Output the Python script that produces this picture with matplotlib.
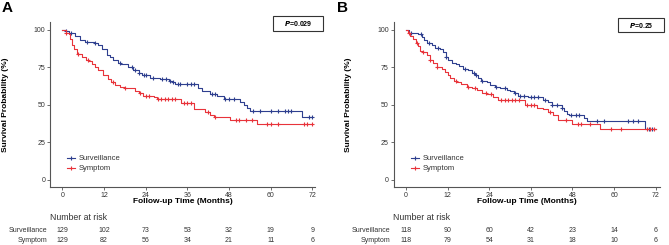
import numpy as np
import matplotlib
matplotlib.use("Agg")
import matplotlib.pyplot as plt
from matplotlib.lines import Line2D
from matplotlib.patches import Rectangle

plt.rcParams['font.family'] = ['Liberation Sans', 'DejaVu Sans']

# ---------------- data ----------------
groups = ["Surveillance", "Symptom"]
risk_times = [0, 12, 24, 36, 48, 60, 72]

# Panel A
a_surv_t = [0, 1, 2, 3.7, 5, 6.5, 9, 10.4, 11.4, 12.8, 13.8, 14.7, 16, 17, 19, 20.5, 22, 23, 25.3, 28.2, 30.6, 31.6, 32.5, 39.2, 40.2, 42.6, 44.6, 46.5, 51.3, 52.3, 53.2, 54.2, 69.1, 72]
a_surv_s = [100, 99, 98, 96, 93, 92, 91, 90, 87, 83, 82, 80, 78, 77, 75, 73, 71, 70, 68, 67, 66, 65, 63.5, 61, 59, 57, 56, 54, 52, 50, 48, 46, 41.5, 41.5]
a_symp_t = [0, 1, 1.8, 2.2, 2.7, 3.4, 4.3, 5.6, 6.8, 7.8, 8.5, 9.4, 10.4, 11.8, 13.3, 14, 15.2, 16.6, 18, 21, 22.2, 23.2, 26.3, 27.2, 34.3, 37.8, 41.2, 42.4, 43.6, 48.2, 56.1, 72]
a_symp_s = [100, 98, 97, 94, 90, 87, 84, 82, 80, 79, 77, 75, 73, 70, 67, 65, 63, 62, 61, 59, 58, 56, 55, 54, 51, 47, 45, 43, 42, 40, 37, 37]
a_surv_cens = [1.2, 2.5, 7, 9.5, 16.5, 20, 21, 22, 23.5, 24, 26, 28.8, 30, 31, 32, 33.2, 34, 36, 37, 38, 43, 44, 47, 48, 49.5, 55, 57, 60, 62, 64, 65, 66, 71, 72]
a_symp_cens = [1.2, 4.5, 7.3, 14.5, 18.2, 22.5, 24, 25, 27.5, 28.5, 29.5, 30.5, 31.5, 32.5, 35, 36, 37, 42, 44, 50, 51, 53, 54.5, 59, 60, 62, 69.5, 70.5, 72]
a_risk_surv = [129, 102, 73, 53, 32, 19, 9]
a_risk_symp = [129, 82, 56, 34, 21, 11, 6]
a_pval = "0.029"

# Panel B
b_surv_t = [0, 1, 3.6, 4.7, 5.3, 6, 7.4, 8.4, 9.8, 10.8, 11.5, 12.2, 13.2, 14.3, 15.3, 16.5, 18, 19, 19.9, 20.7, 21.5, 23.3, 24.2, 25.7, 27.1, 29, 30, 31, 32.4, 35.3, 39.6, 41, 42, 44.9, 45.5, 46.3, 47, 51.2, 52.1, 68.9, 72]
b_surv_s = [100, 98, 97, 95, 93, 91, 90, 88, 87, 85, 82, 80, 78, 77, 76, 74, 73, 71, 70, 68, 66, 65, 63, 62, 61, 60, 59, 58, 56, 55, 53, 52, 50, 48, 46, 44, 43, 41, 39, 34, 34]
b_symp_t = [0, 0.7, 1.2, 2.1, 2.8, 3.4, 4, 5, 6, 6.9, 7.9, 8.8, 10.3, 11.3, 12.2, 12.8, 13.7, 14.6, 16, 17.5, 19, 20.4, 21.8, 23.3, 25.2, 26.6, 34.3, 37.7, 39.6, 41, 42.5, 43.8, 48, 56, 72]
b_symp_s = [100, 98, 96, 94, 91, 89, 86, 85, 83, 80, 78, 75, 74, 72, 70, 68, 66, 65, 64, 62, 61, 60, 58, 57, 55, 53, 50, 48, 47, 45, 43, 40, 37, 34, 34]
b_surv_cens = [1.5, 4.2, 6.5, 9.2, 11.5, 17, 19.5, 20.3, 22, 26, 28.5, 31.5, 33, 34, 36, 37, 38, 40, 42, 43.5, 45, 47.5, 49, 50, 55, 57, 64, 65.5, 67, 70, 71]
b_symp_cens = [1, 3.2, 5, 7, 9, 14.5, 18, 20, 23, 24.5, 27.5, 28.5, 29.5, 30.5, 31.5, 32.5, 35, 36, 37, 41.5, 46, 49.5, 50.5, 53, 59, 62, 69.5, 70.5, 71.5]
b_risk_surv = [118, 90, 60, 42, 23, 14, 6]
b_risk_symp = [118, 79, 54, 31, 18, 10, 6]
b_pval = "0.25"

# ---------------- style ----------------
W, H = 669, 245
BLUE = "#2e3f8f"
RED = "#e8333a"
GREY = "#555555"
TXT = "#333333"

fig = plt.figure(figsize=(W / 100, H / 100), dpi=100)


def fx(px):
    return px / W


def fy(py):
    return 1 - py / H


def step_val(t, s, c):
    t = np.asarray(t)
    s = np.asarray(s)
    i = np.searchsorted(t, c, side="right") - 1
    return s[i]


panels = [
    dict(label="A", left=50, right=315, x0=62.3, x72=312.3, lab_right=47, pval=a_pval, ylab_x=6,
         box=(273, 16, 323, 31), data=[(a_surv_t, a_surv_s, a_surv_cens, BLUE), (a_symp_t, a_symp_s, a_symp_cens, RED)],
         risk=[a_risk_surv, a_risk_symp], leg_x=67, plx=2),
    dict(label="B", left=393.7, right=660, x0=406, x72=655.7, lab_right=390, pval=b_pval, ylab_x=348,
         box=(618, 18, 664, 32), data=[(b_surv_t, b_surv_s, b_surv_cens, BLUE), (b_symp_t, b_symp_s, b_symp_cens, RED)],
         risk=[b_risk_surv, b_risk_symp], leg_x=411, plx=337),
]

top, bottom = 22, 187
for p in panels:
    ppm = (p["x72"] - p["x0"]) / 72.0
    xmin = (p["left"] - p["x0"]) / ppm
    xmax = (p["right"] - p["x0"]) / ppm
    width = p["right"] - p["left"]
    ax = fig.add_axes([fx(p["left"]), fy(bottom), fx(width), (bottom - top) / H])
    for (t, s, cens, col), name in zip(p["data"], groups):
        ax.plot(t, s, drawstyle="steps-post", color=col, lw=0.8)
        ax.plot(cens, step_val(t, s, cens), ls="none", marker="+", ms=3.2, mew=0.8, color=col)
    ax.set_xlim(xmin, xmax)
    ax.set_ylim(-5, 105)
    ax.set_xticks(risk_times)
    ax.set_yticks([0, 25, 50, 75, 100])
    for sp in ["top", "right"]:
        ax.spines[sp].set_visible(False)
    for sp in ["left", "bottom"]:
        ax.spines[sp].set_color(GREY)
        ax.spines[sp].set_linewidth(0.8)
    ax.tick_params(colors=GREY, labelcolor=TXT, labelsize=5, length=2, width=0.6, pad=1.5)
    ax.set_xlabel("Follow-up Time (Months)", fontsize=6, fontweight="bold", color="black", va="center")
    ax.xaxis.set_label_coords(0.5, -(201.7 - bottom) / (bottom - top))
    ax.set_ylabel("Survival Probability (%)", fontsize=6, fontweight="bold", color="black", va="center")
    ax.yaxis.set_label_coords((p["ylab_x"] - p["left"]) / width, 0.5)

    # panel letter
    fig.text(fx(p["plx"]), fy(1.5), p["label"], fontsize=11, fontweight="bold", va="top", ha="left")

    # p-value box
    x1, y1, x2, y2 = p["box"]
    fig.add_artist(Rectangle((fx(x1), fy(y2)), fx(x2 - x1), (y2 - y1) / H, transform=fig.transFigure,
                             fill=False, edgecolor="#333333", lw=0.8))
    fig.text(fx((x1 + x2) / 2), fy((y1 + y2) / 2), r"$\mathbfit{P}$" + "=" + p["pval"],
             fontsize=5, fontweight="bold", ha="center", va="center")

    # legend
    for k, (name, col) in enumerate(zip(groups, [BLUE, RED])):
        yy = 158.3 + 10 * k
        fig.add_artist(Line2D([fx(p["leg_x"]), fx(p["leg_x"] + 8)], [fy(yy), fy(yy)], transform=fig.transFigure,
                              color=col, lw=0.8))
        fig.add_artist(Line2D([fx(p["leg_x"] + 4)], [fy(yy)], transform=fig.transFigure, color=col,
                              marker="+", ms=3.2, mew=0.8, ls="none"))
        fig.text(fx(p["leg_x"] + 12), fy(yy), name, fontsize=5.5, va="center", ha="left", color=TXT)

    # number at risk
    fig.text(fx(p["left"] - 0.5), fy(217), "Number at risk", fontsize=6.3, va="center", ha="left", color=TXT)
    for k, (name, vals) in enumerate(zip(groups, p["risk"])):
        yy = 230 + 10 * k
        fig.text(fx(p["lab_right"]), fy(yy), name, fontsize=5, va="center", ha="right", color=TXT)
        for tt, v in zip(risk_times, vals):
            fig.text(fx(p["x0"] + tt * ppm), fy(yy), str(v), fontsize=5, va="center", ha="center", color=TXT)

fig.savefig("out.png", dpi=100)
